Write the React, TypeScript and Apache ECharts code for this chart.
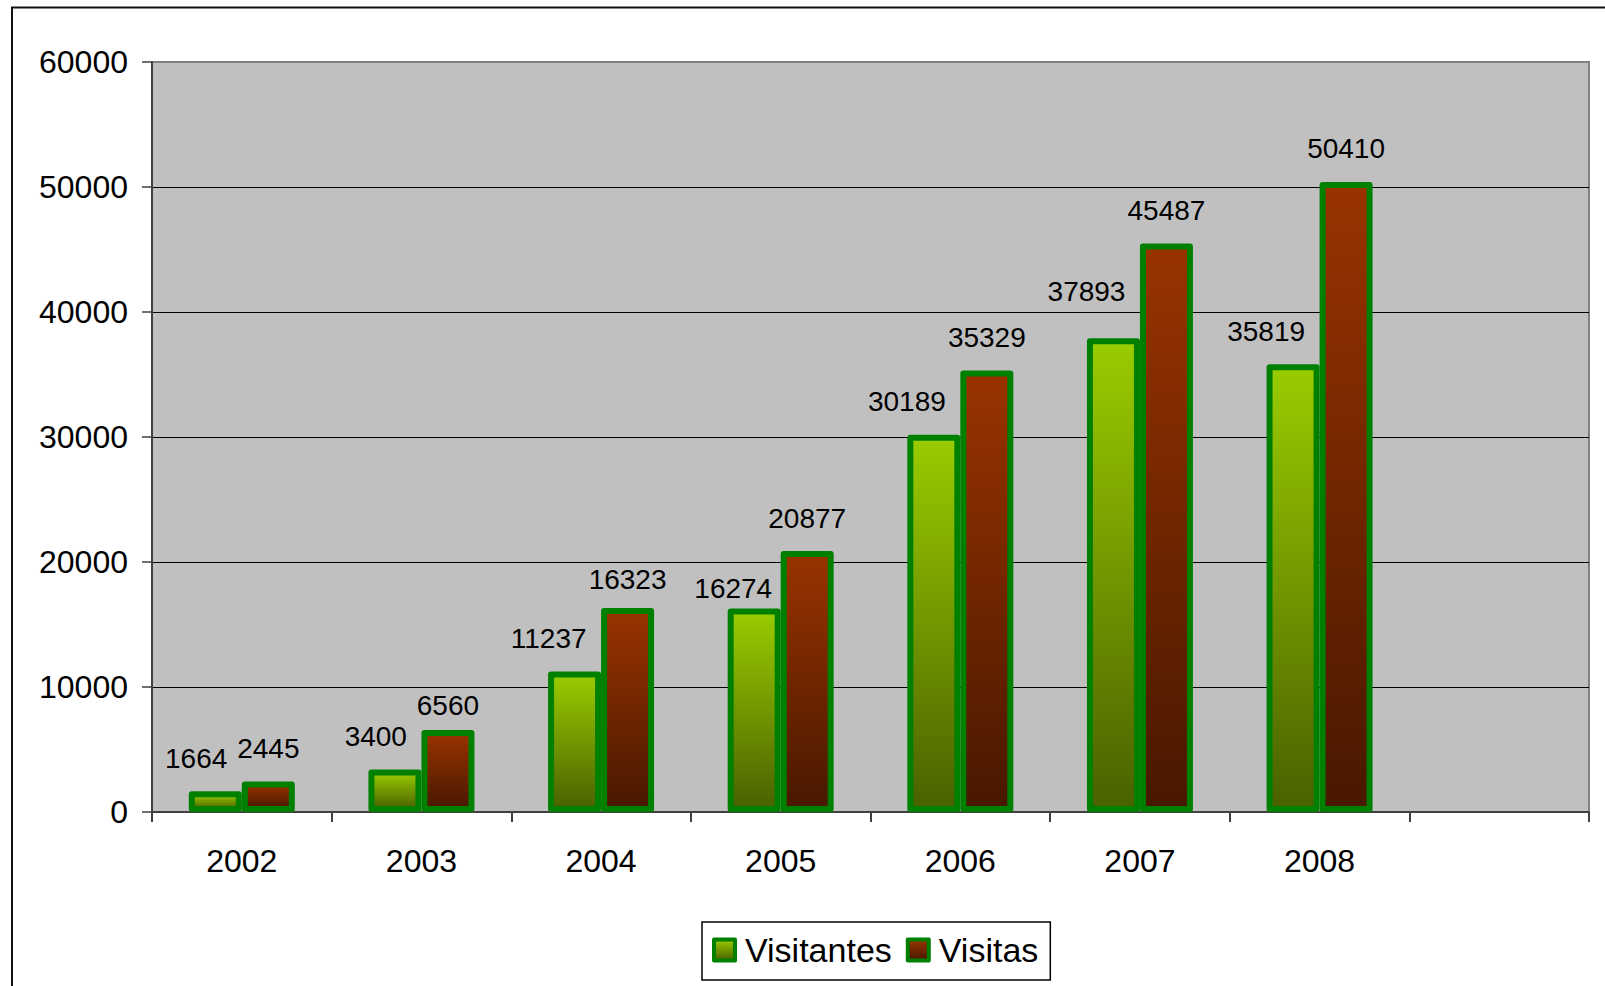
import React, { useEffect, useRef } from "react";
import * as echarts from "echarts";

const categories = ["2002", "2003", "2004", "2005", "2006", "2007", "2008", ""];
const visitantes = [1664, 3400, 11237, 16274, 30189, 37893, 35819];
const visitas = [2445, 6560, 16323, 20877, 35329, 45487, 50410];
const seriesNames = ["Visitantes", "Visitas"];
const yTicks = { min: 0, max: 60000, interval: 10000 };

const FONT = "'Liberation Sans', Arial, sans-serif";

const greenGrad = () =>
  new echarts.graphic.LinearGradient(0, 0, 0, 1, [
    { offset: 0, color: "#99CC00" },
    { offset: 1, color: "#4A6100" },
  ]);
const redGrad = () =>
  new echarts.graphic.LinearGradient(0, 0, 0, 1, [
    { offset: 0, color: "#993300" },
    { offset: 1, color: "#481800" },
  ]);

export default function App() {
  const ref = useRef<HTMLDivElement>(null);
  useEffect(() => {
    if (!ref.current) return;
    const chart = echarts.init(ref.current, undefined, { renderer: "svg" });
    const labelBase = {
      show: true,
      position: "top" as const,
      distance: 19,
      color: "#000",
      fontSize: 28,
      fontFamily: FONT,
    };
    // label placement nudges (as in the original spreadsheet chart)
    const greenNudge: Record<number, [number, number]> = { 3: [18, 13], 5: [12, -14] };
    const redNudge: Record<number, [number, number]> = { 1: [0, 8], 2: [0, 5] };
    const greenData = visitantes.map((v, i) =>
      greenNudge[i] ? { value: v, label: { offset: greenNudge[i] } } : v
    );
    const redData = visitas.map((v, i) =>
      redNudge[i] ? { value: v, label: { offset: redNudge[i] } } : v
    );
    chart.setOption({
      animation: false,
      backgroundColor: "#fff",
      textStyle: { fontFamily: FONT },
      graphic: [
        {
          type: "rect",
          shape: { x: 12, y: 7.5, width: 1800, height: 1200 },
          style: { fill: "none", stroke: "#111", lineWidth: 2 },
          silent: true,
        },
      ],
      grid: {
        left: 152,
        right: 16,
        top: 62,
        bottom: 174,
        show: true,
        backgroundColor: "#C0C0C0",
        borderColor: "#808080",
        borderWidth: 2,
      },
      legend: {
        left: 702,
        top: 922,
        padding: [11, 12, 13, 10],
        borderColor: "#000",
        borderWidth: 1.5,
        itemWidth: 21,
        itemHeight: 21,
        itemGap: 14,
        textStyle: { fontSize: 34, color: "#000", fontFamily: FONT, padding: [0, 0, 0, 5] },
        data: [
          {
            name: seriesNames[0],
            icon: "rect",
            itemStyle: { color: greenGrad(), borderColor: "#008000", borderWidth: 4, borderJoin: "round" },
          },
          {
            name: seriesNames[1],
            icon: "rect",
            itemStyle: { color: redGrad(), borderColor: "#008000", borderWidth: 4, borderJoin: "round" },
          },
        ],
      },
      xAxis: {
        type: "category",
        data: categories,
        boundaryGap: true,
        axisLine: { show: true, lineStyle: { color: "#404040", width: 2 } },
        axisTick: { show: true, length: 10, lineStyle: { color: "#404040", width: 2 } },
        axisLabel: { color: "#000", fontSize: 32, margin: 33, fontFamily: FONT, interval: 0 },
        splitLine: { show: false },
      },
      yAxis: {
        type: "value",
        min: yTicks.min,
        max: yTicks.max,
        interval: yTicks.interval,
        axisLine: { show: true, lineStyle: { color: "#404040", width: 2 } },
        axisTick: { show: true, length: 10, lineStyle: { color: "#404040", width: 1.5 } },
        axisLabel: {
          color: "#000",
          fontSize: 32,
          margin: 24,
          fontFamily: FONT,
          formatter: (v: number) => String(v),
        },
        splitLine: { show: true, showMaxLine: false, lineStyle: { color: "#000", width: 1.2 } },
      },
      series: [
        {
          name: seriesNames[0],
          type: "bar",
          data: greenData,
          barWidth: 53,
          barGap: "0%",
          itemStyle: { color: greenGrad(), borderColor: "#008000", borderWidth: 6, borderJoin: "round" },
          label: { ...labelBase, align: "right", offset: [12, 0] },
          z: 3,
        },
        {
          name: seriesNames[1],
          type: "bar",
          data: redData,
          barWidth: 53,
          barGap: "0%",
          itemStyle: { color: redGrad(), borderColor: "#008000", borderWidth: 6, borderJoin: "round" },
          label: { ...labelBase },
          z: 3,
        },
      ],
    });
    return () => chart.dispose();
  }, []);
  return (
    <div
      ref={ref}
      style={{ position: "fixed", left: 0, top: 0, width: 1605, height: 986 }}
    />
  );
}
